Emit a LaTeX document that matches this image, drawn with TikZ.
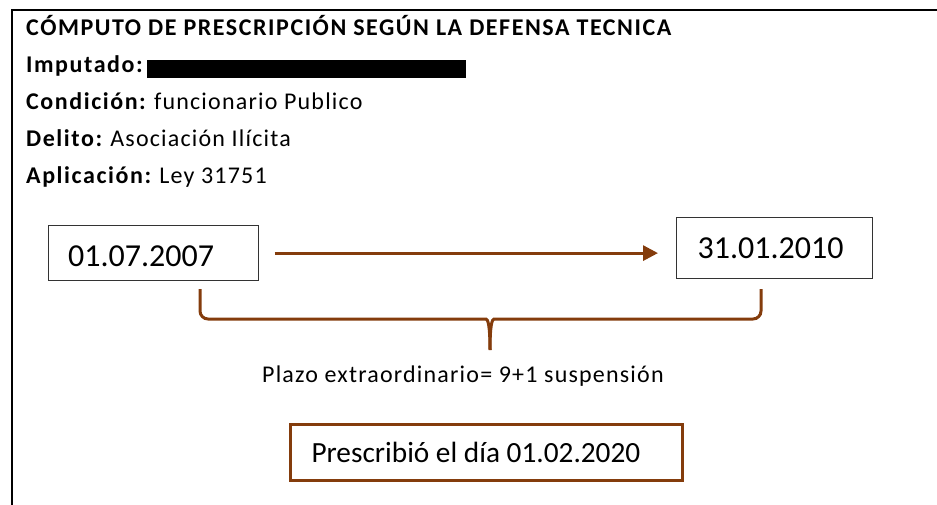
\documentclass[tikz,border=0pt]{standalone}
\usepackage{fontspec}
\setmainfont{Carlito}
\newfontfamily\ancho{Carlito}[LetterSpace=5,BoldFeatures={LetterSpace=6.5}]
\frenchspacing
\usetikzlibrary{arrows.meta,positioning}
\definecolor{cafe}{HTML}{843C0C}
\tikzstyle{linea} = [font=\ancho\fontsize{24}{28}\selectfont,anchor=base west,inner sep=0]
\tikzstyle{fecha} = [draw=black!80,line width=1.2pt,rectangle,font=\fontsize{32}{38}\selectfont,inner ysep=0,anchor=north west]
\tikzstyle{resultado} = [draw=cafe,line width=3pt,rectangle,font=\fontsize{29.3}{35}\selectfont,inner ysep=0,anchor=north west]
\tikzstyle{flecha} = [cafe,line width=3pt,-{Triangle[length=15pt,width=15pt]}]
\tikzstyle{llave} = [cafe,line width=3pt]
\def \lh {37}

\begin{document}
\begin{tikzpicture}[x=1pt,y=-1pt]
      \useasboundingbox (0,0) rectangle (937,505);
      \draw[line width=1.8pt] (937,10) -- (11.8,10) -- (11.8,505);
      % encabezado
      \node[linea] (titulo) at (26,36) {\textbf{CÓMPUTO DE PRESCRIPCIÓN SEGÚN LA DEFENSA TECNICA}};
      \node[linea] (imp) at (26,36+\lh) {\textbf{Imputado:}};
      \fill (147,60) rectangle (466,78);
      \node[linea] (cond) at (26,36+2*\lh) {\textbf{Condición:} funcionario Publico};
      \node[linea] (del) at (26,36+3*\lh) {\textbf{Delito:} Asociación Ilícita};
      \node[linea] (apl) at (26,36+4*\lh) {\textbf{Aplicación:} Ley 31751};
      % fechas
      \node[fecha,inner xsep=20pt,minimum height=55pt,text height=27pt,text depth=0pt] (d1) at (47.5,225) {\makebox[170pt][l]{01.07.2007}};
      \node[fecha,inner xsep=21pt,minimum height=61pt] (d2) at (676,217) {\makebox[154pt][l]{31.01.2010}};
      \draw[flecha,shorten <=16pt,shorten >=18pt] (d1.east) -- (d1.east -| d2.west);
      % llave
      \coordinate (bizq) at (200,289);
      \coordinate (bder) at (761,289);
      \coordinate (punta) at (490,350);
      \draw[llave] (bizq) [rounded corners=8pt] -- (200,319) -- (478,319) [sharp corners] .. controls (488,319) and (490,326) .. (punta);
      \draw[llave] (bder) [rounded corners=8pt] -- (761,319) -- (502,319) [sharp corners] .. controls (492,319) and (490,326) .. (punta);
      \node[linea] (plazo) at (262,382) {Plazo extraordinario= 9+1 suspensión};
      % resultado
      \node[resultado,inner xsep=21.5pt,minimum height=56pt] (res) at (288.5,422.5) {\makebox[349pt][l]{Prescribió el día 01.02.2020}};
    \end{tikzpicture}
\end{document}
